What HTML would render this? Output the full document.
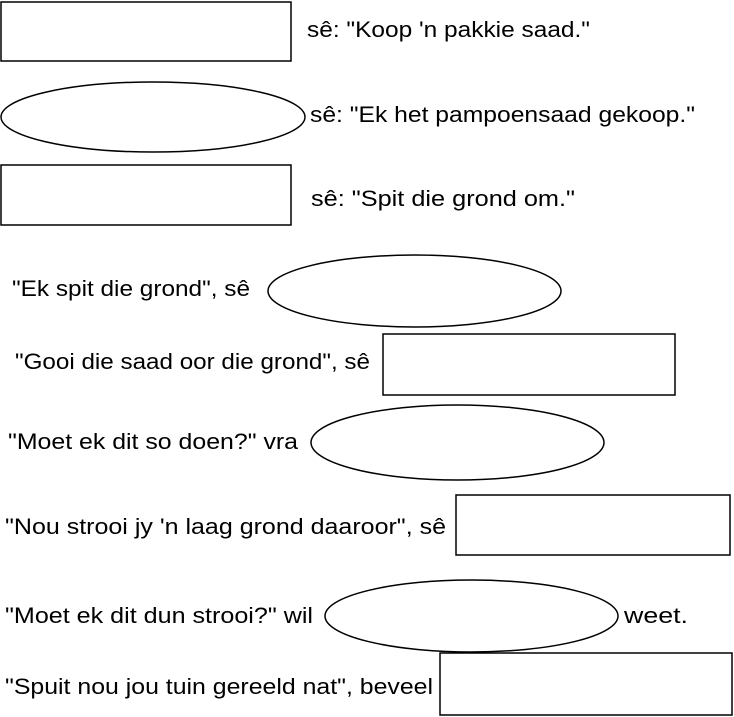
<!DOCTYPE html>
<html><head><meta charset="utf-8"><style>
html,body{margin:0;padding:0;background:#fff;}
svg{display:block;}
text{font-family:"Liberation Sans",sans-serif;font-size:22px;fill:#000;}
</style></head><body>
<svg width="734" height="717" viewBox="0 0 734 717" xmlns="http://www.w3.org/2000/svg">
<g fill="none" stroke="#000" stroke-width="1.5">
<rect x="1" y="2" width="290" height="59"/>
<ellipse cx="153" cy="117" rx="152" ry="35"/>
<rect x="1" y="165" width="290" height="60"/>
<ellipse cx="414.5" cy="291" rx="146.5" ry="36"/>
<rect x="383" y="334" width="292" height="61"/>
<ellipse cx="457.5" cy="442.5" rx="146.5" ry="37.5"/>
<rect x="456" y="495" width="274" height="60"/>
<ellipse cx="471.5" cy="616" rx="146.5" ry="36"/>
<rect x="440" y="653" width="292" height="62"/>
</g>
<text x="307" y="37" textLength="283" lengthAdjust="spacingAndGlyphs">sê:  "Koop 'n pakkie saad."</text>
<text x="310" y="122" textLength="385" lengthAdjust="spacingAndGlyphs">sê:  "Ek het pampoensaad gekoop."</text>
<text x="311" y="206" textLength="264" lengthAdjust="spacingAndGlyphs">sê:  "Spit die grond om."</text>
<text x="12" y="296" textLength="238" lengthAdjust="spacingAndGlyphs">"Ek spit die grond", sê</text>
<text x="15" y="369" textLength="355" lengthAdjust="spacingAndGlyphs">"Gooi die saad oor die grond", sê</text>
<text x="8" y="449" textLength="290" lengthAdjust="spacingAndGlyphs">"Moet ek dit so doen?" vra</text>
<text x="5" y="534" textLength="441" lengthAdjust="spacingAndGlyphs">"Nou strooi jy 'n laag grond daaroor", sê</text>
<text x="5" y="623" textLength="308" lengthAdjust="spacingAndGlyphs">"Moet ek dit dun strooi?" wil</text>
<text x="624" y="623" textLength="64" lengthAdjust="spacingAndGlyphs">weet.</text>
<text x="5" y="694" textLength="428" lengthAdjust="spacingAndGlyphs">"Spuit nou jou tuin gereeld nat", beveel</text>
</svg>
</body></html>
